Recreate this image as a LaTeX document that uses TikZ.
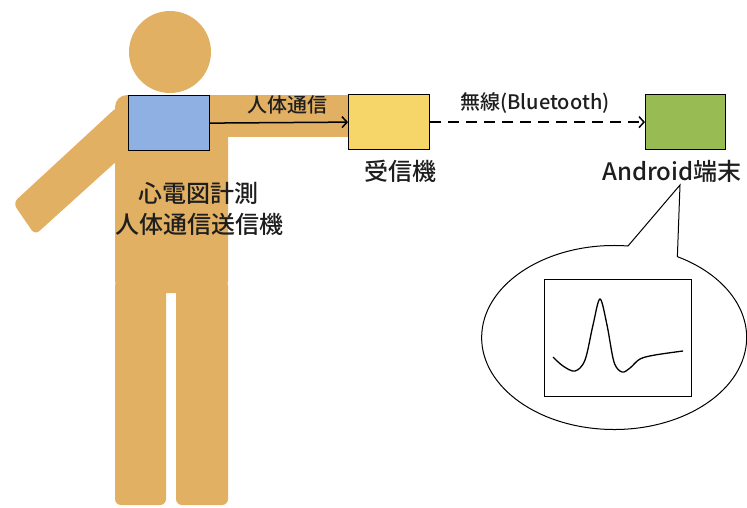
\documentclass[tikz,border=0pt]{standalone}
\usepackage{fontspec}
\setmainfont{Noto Sans CJK JP}[BoldFont={Noto Sans CJK JP Medium}]
\usetikzlibrary{arrows.meta}

\definecolor{skin}{RGB}{226,176,98}
\definecolor{boxblue}{RGB}{143,176,226}
\definecolor{boxyellow}{RGB}{246,214,104}
\definecolor{boxgreen}{RGB}{153,187,84}
\definecolor{ink}{RGB}{30,30,30}

\begin{document}
\begin{tikzpicture}[x=1pt,y=-1pt,
  device/.style={draw=black, line width=1.2pt, minimum width=81pt,
    minimum height=55pt, inner sep=0pt, anchor=north west},
  biglabel/.style={font=\fontsize{24}{26}\selectfont\bfseries, text=ink, inner sep=0pt},
  linklabel/.style={font=\fontsize{20}{22}\selectfont\bfseries, text=ink, inner sep=0pt},
  link/.style={line width=1.5pt, -{Straight Barb[length=5pt,width=11pt]}},
  ]
\path[use as bounding box] (0,0) rectangle (747,507);

% stick figure
\fill[skin] (170,52) circle[radius=41pt];
\fill[skin, rounded corners=6pt] (13,203) -- (35,235) -- (140,140) -- (118,106) -- cycle;
\fill[skin, rounded corners=12pt] (115,95) rectangle (228,293);
\fill[skin] (200,95) rectangle (350,137);
\fill[skin, rounded corners=6pt] (115,280) rectangle (166,505);
\fill[skin, rounded corners=6pt] (176,280) rectangle (228,505);

% devices
\node[device, fill=boxblue] (tx) at (128,95) {};
\node[device, fill=boxyellow] (rx) at (348,94) {};
\node[device, fill=boxgreen, minimum width=80pt] (phone) at (645,94) {};

% links
\draw[link] (tx.east) -- (rx.west);
\draw[link, dash pattern=on 11pt off 7pt] (rx.east) -- (phone.west);

% labels
\node[linklabel] (bodycomm) at (287,105) {人体通信};
\node[linklabel] (wireless) at (535,103) {無線(Bluetooth)};
\node[biglabel] (txname1) at (198,193) {心電図計測};
\node[biglabel] (txname2) at (199,224) {人体通信送信機};
\node[biglabel] (rxname) at (400,171) {受信機};
\node[biglabel] (phonename) at (672,171) {Android端末};

% speech bubble with the ECG screen
\draw[line width=1pt, fill=white] (628,246)
  arc[start angle=84, end angle=421.5, x radius=132.5pt, y radius=92pt]
  -- (680,185) -- cycle;
\node[draw, line width=1.2pt, minimum width=147pt, minimum height=117pt,
  inner sep=0pt, anchor=north west] (screen) at (544,279) {};
\draw[line width=1.3pt] plot[smooth, tension=0.55] coordinates {
  (553,357) (563,366) (575,371) (585,360) (593,325) (600,299) (607,325)
  (614,362) (622,372) (630,368) (640,359) (655,355) (683,351)};
\end{tikzpicture}
\end{document}
